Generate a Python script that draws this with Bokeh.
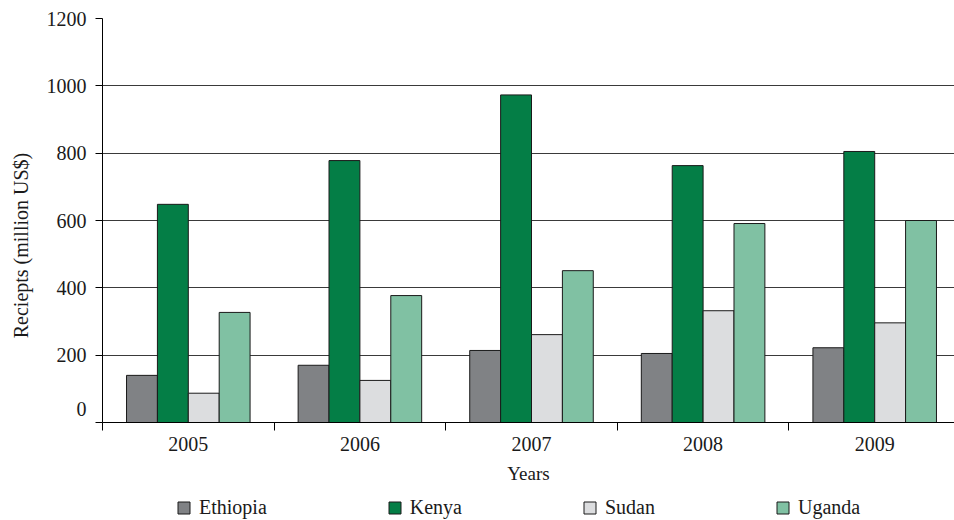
from bokeh.plotting import figure
from bokeh.models import ColumnDataSource, Range1d, FixedTicker, Legend, LegendItem
from bokeh.transform import dodge
from bokeh.layouts import column
from bokeh.embed import file_html
from bokeh.resources import INLINE

years = ["2005", "2006", "2007", "2008", "2009"]
ethiopia = [140, 170, 214, 205, 222]
kenya = [648, 778, 973, 763, 805]
sudan = [87, 125, 261, 332, 296]
uganda = [327, 377, 451, 591, 600]
series_names = ["Ethiopia", "Kenya", "Sudan", "Uganda"]
colors = ["#808285", "#047e46", "#dcdddf", "#80c1a3"]
y_ticks = [0, 200, 400, 600, 800, 1000, 1200]

FONT = "Liberation Serif"
FS = "20px"

pos = [i + 0.5 for i in range(len(years))]
src = ColumnDataSource(dict(x=pos, Ethiopia=ethiopia, Kenya=kenya, Sudan=sudan, Uganda=uganda))

p = figure(frame_width=852, frame_height=404, x_range=Range1d(0, 4.965), y_range=Range1d(0, 1200),
           output_backend="svg", toolbar_location=None,
           min_border_left=102, min_border_right=0, min_border_top=18, min_border_bottom=70)
p.outline_line_color = None
p.background_fill_color = "white"
p.border_fill_color = "white"
p.xgrid.visible = False
p.ygrid.grid_line_color = "#3a3a3a"
p.ygrid.grid_line_width = 1
p.ygrid.ticker = FixedTicker(ticks=y_ticks)

bw = 0.18
offsets = [-1.5 * bw, -0.5 * bw, 0.5 * bw, 1.5 * bw]
for name, col, off in zip(series_names, colors, offsets):
    p.vbar(x=dodge("x", off, range=p.x_range), top=name, width=bw, bottom=0, source=src,
           fill_color=col, line_color="#1a1a1a", line_width=1)

# x axis
xa = p.xaxis[0]
xa.ticker = FixedTicker(ticks=pos, minor_ticks=list(range(len(years) + 1)))
xa.major_label_overrides = {x: y for x, y in zip(pos, years)}
xa.major_tick_out = 0
xa.major_tick_in = 0
xa.minor_tick_out = 8
xa.minor_tick_in = 0
xa.minor_tick_line_color = "black"
xa.axis_line_color = "black"
xa.major_label_text_font = FONT
xa.major_label_text_font_size = FS
xa.major_label_text_color = "#1a1a1a"
xa.major_label_standoff = 6
xa.axis_label = "Years"
xa.axis_label_text_font = FONT
xa.axis_label_text_font_size = "19px"
xa.axis_label_text_font_style = "normal"
xa.axis_label_text_color = "#1a1a1a"
xa.axis_label_standoff = 9

# y axis
ya = p.yaxis[0]
ya.ticker = FixedTicker(ticks=y_ticks)
ya.major_label_overrides = {0: "0\n "}
ya.major_tick_out = 7
ya.major_tick_in = 0
ya.minor_tick_out = 0
ya.minor_tick_in = 0
ya.major_tick_line_color = "black"
ya.axis_line_color = "black"
ya.major_label_text_font = FONT
ya.major_label_text_font_size = FS
ya.major_label_text_color = "#1a1a1a"
ya.major_label_standoff = 9
ya.axis_label = "Reciepts (million US$)" + "\u00a0" * 10
ya.axis_label_text_font = FONT
ya.axis_label_text_font_size = FS
ya.axis_label_text_font_style = "normal"
ya.axis_label_text_color = "#1a1a1a"
ya.axis_label_standoff = 12

# legend strip below the chart (its frame is aligned with the chart's frame)
lf = figure(width=954, height=28, x_range=Range1d(0, 1), y_range=Range1d(5000, 5001),
            output_backend="svg", toolbar_location=None,
            x_axis_location=None, y_axis_location=None,
            min_border_left=0, min_border_right=0, min_border_top=0, min_border_bottom=0)
lf.outline_line_color = None
lf.xgrid.visible = False
lf.ygrid.visible = False
lf.background_fill_color = "white"
lf.border_fill_color = "white"
leg_renderers = []
for name, col in zip(series_names, colors):
    r = lf.vbar(x="x", top=name, width=0.1, bottom=0, source=src,
                fill_color=col, line_color="#1a1a1a", line_width=1)
    leg_renderers.append(r)

legend = Legend(items=[LegendItem(label=n, renderers=[r]) for n, r in zip(series_names, leg_renderers)],
                orientation="horizontal", location=(74, 1), spacing=120,
                glyph_width=15, glyph_height=15, label_standoff=8, padding=0, margin=0,
                border_line_color=None, background_fill_alpha=0,
                label_text_font=FONT, label_text_font_size=FS, label_text_color="#1a1a1a")
lf.add_layout(legend, "center")

layout = column(p, lf, spacing=0)
open("out.html", "w").write(file_html(layout, INLINE))
